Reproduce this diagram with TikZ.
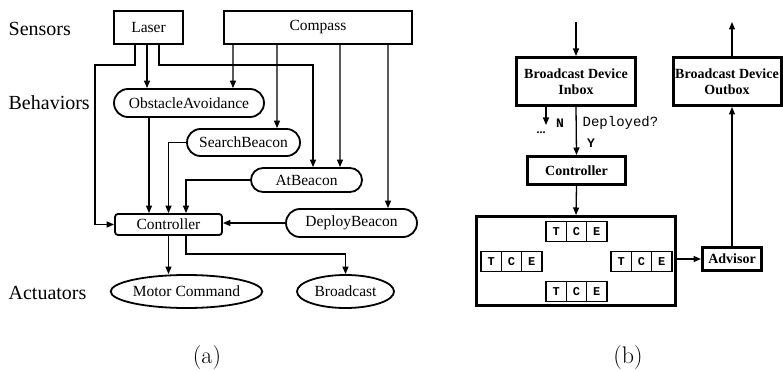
\documentclass[tikz,border=0pt]{standalone}
\usepackage{fontspec}
\usepackage{tikz}
\newfontfamily\timesfont{Liberation Serif}
\newfontfamily\courierfont{Liberation Mono}
\usetikzlibrary{
  arrows.meta,
  shapes.misc,
  shapes,
  calc,
  positioning,
}
\newcommand{\tcegroup}[2]{%
  \node (#1c) [cell] at (#2) {C};
  \node (#1t) [cell, left=0pt of #1c] {T};
  \node (#1e) [cell, right=0pt of #1c] {E};
}

\begin{document}
\begin{tikzpicture}[x=1pt, y=-1pt, line width=1.3pt, >={Triangle[length=7.5pt,width=6pt]}]
	\tikzstyle{every node}=[font=\timesfont\fontsize{15.5}{18}\selectfont]
	\tikzstyle{sensor}=[draw, line width=2.2pt, inner sep=0pt]
	\tikzstyle{behavior}=[draw, shape=rounded rectangle, line width=1.8pt, inner sep=0pt]
	\tikzstyle{actuator}=[draw, shape=ellipse, line width=1.8pt, inner sep=0pt]
	\tikzstyle{layer}=[anchor=west, inner sep=0pt, font=\timesfont\fontsize{20}{24}\selectfont]
	\tikzstyle{block}=[draw, line width=3pt, inner sep=0pt, align=center, font=\timesfont\bfseries\fontsize{14}{16}\selectfont]
	\tikzstyle{cell}=[draw, line width=1.2pt, outer sep=0pt, inner sep=0pt, minimum width=20.3pt, minimum height=20pt, font=\courierfont\bfseries\fontsize{12}{12}\selectfont]
	\tikzstyle{flag}=[font=\courierfont\bfseries\fontsize{13}{13}\selectfont]
	\tikzstyle{caption}=[font=\rmfamily\fontsize{24}{26}\selectfont]
	\useasboundingbox (0,0) rectangle (783,371);
	% (a) layers
	\node (sensors) [layer] at (8,29) {Sensors};
	\node (behaviors) [layer] at (8,103) {Behaviors};
	\node (actuators) [layer] at (8,293) {Actuators};
	% Sensors
	\node (laser) [sensor, minimum width=69pt, minimum height=33pt] at (148.5,27.5) {Laser};
	\node (compass) [sensor, minimum width=188pt, minimum height=33pt] at (318,27.5) {Compass};
	% Behaviors
	\node (obst) [behavior, minimum width=150pt, minimum height=28pt] at (189,103) {ObstacleAvoidance};
	\node (search) [behavior, minimum width=113pt, minimum height=27pt] at (243.5,142.5) {SearchBeacon};
	\node (atb) [behavior, minimum width=111pt, minimum height=24pt] at (306.5,180) {AtBeacon};
	\node (deploy) [behavior, minimum width=131pt, minimum height=28pt] at (351.5,223) {DeployBeacon};
	\node (ctrl) [draw, rounded corners=3pt, line width=1.8pt, inner sep=0pt, minimum width=107pt, minimum height=21pt] at (168.5,224.5) {Controller};
	% Actuators
	\node (motor) [actuator, minimum width=143pt, minimum height=33pt] at (186.5,291.5) {Motor Command};
	\node (bcast) [actuator, minimum width=97pt, minimum height=33pt] at (345.5,291.5) {Broadcast};
	% Sensor outputs
	\draw [->] ($(laser.south)+(-13.5,0)$) -- ++(0,20) -| ($(ctrl.west)+(-19,0)$) -- (ctrl.west);
	\draw [->] ($(laser.south)+(-1.5,0)$) -- ($(obst.north)+(-42,0)$);
	\draw [->] ($(laser.south)+(10.5,0)$) -- ++(0,20) -| ($(atb.north)+(6.5,0)$);
	\draw [->] ($(compass.south west)+(10,0)$) -- ($(obst.north)+(44,0)$);
	\draw [->] ($(compass.south west)+(54,0)$) -- ($(search.north)+(33.5,0)$);
	\draw [->] ($(compass.south west)+(117,0)$) -- ($(atb.north)+(33.5,0)$);
	\draw [->] ($(compass.south west)+(165,0)$) -- ($(deploy.north)+(36.5,0)$);
	% Behavior outputs
	\draw [->] ($(obst.south)+(-40,0)$) -- ($(ctrl.north)+(-19.5,0)$);
	\draw [->] (search.west) -| (ctrl.north);
	\draw [->] (atb.west) -| ($(ctrl.north)+(17.5,0)$);
	\draw [->] (deploy.west) -- (deploy.west -| ctrl.east);
	% Controller outputs
	\draw [->] (ctrl.south) -- (ctrl.south |- motor.north);
	\draw [->] ($(ctrl.south)+(17.5,0)$) -- ++(0,18) -| (bcast.north);
	% (b) boxes
	\node (inbox) [block, minimum width=119pt, minimum height=48pt] at (576,81.5) {Broadcast Device\\Inbox};
	\node (outbox) [block, minimum width=108pt, minimum height=48pt] at (727,81.5) {Broadcast Device\\Outbox};
	\node (ctrlb) [block, minimum width=98pt, minimum height=28pt] at (576.5,170.5) {Controller};
	\node (big) [draw, line width=3pt, minimum width=199pt, minimum height=89pt] at (576,261) {};
	\node (advisor) [block, minimum width=59pt, minimum height=23pt] at (732,259) {Advisor};
	% TCE triples
	\tcegroup{top}{576.5,231.5}
	\tcegroup{left}{511.5,261.5}
	\tcegroup{right}{641.5,261.5}
	\tcegroup{bottom}{576.5,291.5}
	% Arrows
	\coordinate (inlet) at (576,22);
	\coordinate (outlet) at (732,22);
	\coordinate (nstub) at (546,125);
	\draw [->] (inlet) -- (inbox.north);
	\draw [->] (outbox.north -| outlet) -- (outlet);
	\draw [->] (inbox.south -| nstub) -- (nstub);
	\draw [->] (inbox.south) -- (ctrlb.north);
	\draw [->] (ctrlb.south) -- (big.north);
	\draw [->] (big.east |- advisor.west) -- (advisor.west);
	\draw [->] (advisor.north) -- (advisor.north |- outbox.south);
	% Labels
	\node (no) [flag] at (560,123) {N};
	\node (yes) [flag] at (591,143) {Y};
	\node (deployed) [anchor=west, inner sep=0pt, font=\courierfont\fontsize{14}{14}\selectfont] at (582,123) {Deployed?};
	\node (more) [anchor=base, font=\timesfont\bfseries\fontsize{12}{12}\selectfont] at (541,134) {...};
	% Captions
	\node (capa) [caption] at (207,358) {(a)};
	\node (capb) [caption] at (628,358) {(b)};
\end{tikzpicture}
\end{document}
